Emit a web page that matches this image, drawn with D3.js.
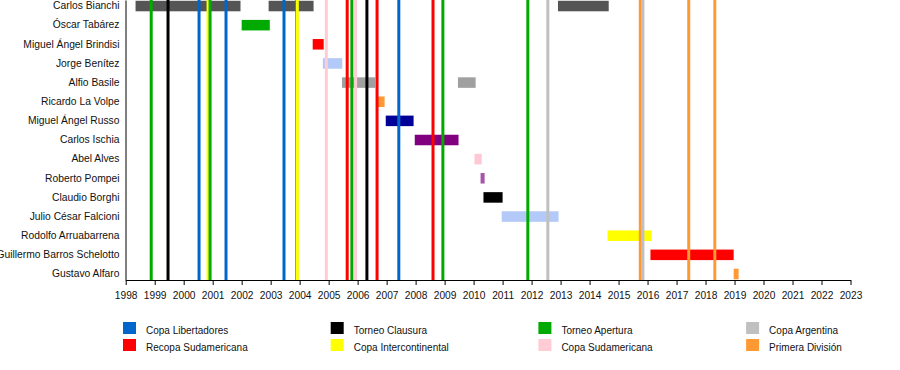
<!DOCTYPE html>
<html>
<head>
<meta charset="utf-8">
<script src="https://cdn.jsdelivr.net/npm/d3@7"></script>
<style>
  body { margin: 0; background: #fff; }
  svg { display: block; font-family: "Liberation Sans", Arial, sans-serif; }
</style>
</head>
<body>
<svg id="chart" width="900" height="370"></svg>
<script>
// managers, top to bottom
const managers = [
  "Carlos Bianchi", "Óscar Tabárez", "Miguel Ángel Brindisi", "Jorge Benítez",
  "Alfio Basile", "Ricardo La Volpe", "Miguel Ángel Russo", "Carlos Ischia",
  "Abel Alves", "Roberto Pompei", "Claudio Borghi", "Julio César Falcioni",
  "Rodolfo Arruabarrena", "Guillermo Barros Schelotto", "Gustavo Alfaro"
];

const managerColors = [
  "#555555", "#00aa00", "#ff0000", "#b3c9f7",
  "#a0a0a0", "#ff9933", "#000099", "#800080",
  "#ffc8d4", "#a855a8", "#000000", "#b3c9f7",
  "#ffff00", "#ff0000", "#ff9933"
];

// spells in charge [manager, from, to] (decimal years)
const stints = [
  ["Carlos Bianchi", 1998.34, 2001.96],
  ["Carlos Bianchi", 2002.93, 2004.48],
  ["Carlos Bianchi", 2012.91, 2014.66],
  ["Óscar Tabárez", 2002.0, 2002.97],
  ["Miguel Ángel Brindisi", 2004.45, 2004.83],
  ["Jorge Benítez", 2004.8, 2005.47],
  ["Alfio Basile", 2005.46, 2006.61],
  ["Alfio Basile", 2009.46, 2010.07],
  ["Ricardo La Volpe", 2006.7, 2006.93],
  ["Miguel Ángel Russo", 2006.97, 2007.93],
  ["Carlos Ischia", 2007.97, 2009.48],
  ["Abel Alves", 2010.03, 2010.28],
  ["Roberto Pompei", 2010.24, 2010.38],
  ["Claudio Borghi", 2010.34, 2011.0],
  ["Julio César Falcioni", 2010.97, 2012.93],
  ["Rodolfo Arruabarrena", 2014.62, 2016.14],
  ["Guillermo Barros Schelotto", 2016.1, 2018.97],
  ["Gustavo Alfaro", 2018.97, 2019.14]
];

// legend: competitions and their colours
const competitions = [
  "Copa Libertadores", "Recopa Sudamericana", "Torneo Clausura", "Copa Intercontinental",
  "Torneo Apertura", "Copa Sudamericana", "Copa Argentina", "Primera División"
];
const compColors = [
  "#0066cc", "#ff0000", "#000000", "#ffff00",
  "#00aa00", "#ffccd5", "#c0c0c0", "#ff9933"
];

// titles won [competition, date], chronological
const titles = [
  ["Torneo Apertura", 1998.88],
  ["Torneo Clausura", 1999.46],
  ["Copa Libertadores", 2000.53],
  ["Copa Intercontinental", 2000.84],
  ["Torneo Apertura", 2000.91],
  ["Copa Libertadores", 2001.46],
  ["Copa Libertadores", 2003.46],
  ["Torneo Apertura", 2003.9],
  ["Copa Intercontinental", 2003.92],
  ["Copa Sudamericana", 2004.92],
  ["Recopa Sudamericana", 2005.64],
  ["Torneo Apertura", 2005.8],
  ["Copa Sudamericana", 2005.93],
  ["Torneo Clausura", 2006.32],
  ["Recopa Sudamericana", 2006.67],
  ["Copa Libertadores", 2007.42],
  ["Recopa Sudamericana", 2008.6],
  ["Torneo Apertura", 2008.94],
  ["Torneo Apertura", 2011.87],
  ["Copa Argentina", 2012.56],
  ["Primera División", 2015.75],
  ["Copa Argentina", 2015.84],
  ["Primera División", 2017.42],
  ["Primera División", 2018.32]
];

const years = d3.range(1998, 2024);

const svg = d3.select("#chart");
const plotTop = 0, plotBottom = 280;

const x = d3.scaleLinear().domain([1998, 2023]).range([125.7, 850.5]);
const y = d3.scaleBand().domain(managers).range([plotTop, plotBottom])
  .paddingInner(0.45).paddingOuter(0.04);
const mColor = d3.scaleOrdinal().domain(managers).range(managerColors);
const cColor = d3.scaleOrdinal().domain(competitions).range(compColors);

// manager bars
svg.append("g").selectAll("rect")
  .data(stints)
  .join("rect")
  .attr("x", d => x(d[1]))
  .attr("y", d => y(d[0]))
  .attr("width", d => x(d[2]) - x(d[1]))
  .attr("height", y.bandwidth())
  .attr("fill", d => mColor(d[0]));

// title lines on top
svg.append("g").selectAll("line")
  .data(titles)
  .join("line")
  .attr("x1", d => x(d[1]))
  .attr("x2", d => x(d[1]))
  .attr("y1", plotTop)
  .attr("y2", plotBottom)
  .attr("stroke", d => cColor(d[0]))
  .attr("stroke-width", 3);

// axes
const xAxis = svg.append("g")
  .attr("transform", "translate(0," + plotBottom + ")")
  .call(d3.axisBottom(x).tickValues(years).tickFormat(d3.format("d"))
    .tickSize(5).tickSizeOuter(0).tickPadding(7));
xAxis.attr("font-family", null);
xAxis.selectAll("text").attr("font-size", "10.2px").attr("fill", "#111");

const yAxis = svg.append("g")
  .attr("transform", "translate(125.5,0)")
  .call(d3.axisLeft(y).tickSize(0).tickSizeOuter(0).tickPadding(6));
yAxis.attr("font-family", null);
yAxis.selectAll("text").attr("font-size", "10.3px").attr("fill", "#111");

// legend
const legend = svg.append("g").selectAll("g")
  .data(competitions)
  .join("g")
  .attr("transform", (d, i) => "translate(" + (123 + Math.floor(i / 2) * 207.7) + "," + (322 + (i % 2) * 17) + ")");
legend.append("rect")
  .attr("width", 13).attr("height", 12)
  .attr("fill", d => cColor(d));
legend.append("text")
  .attr("x", 23).attr("y", 12)
  .attr("font-size", "10px").attr("fill", "#111")
  .text(d => d);
</script>
</body>
</html>
